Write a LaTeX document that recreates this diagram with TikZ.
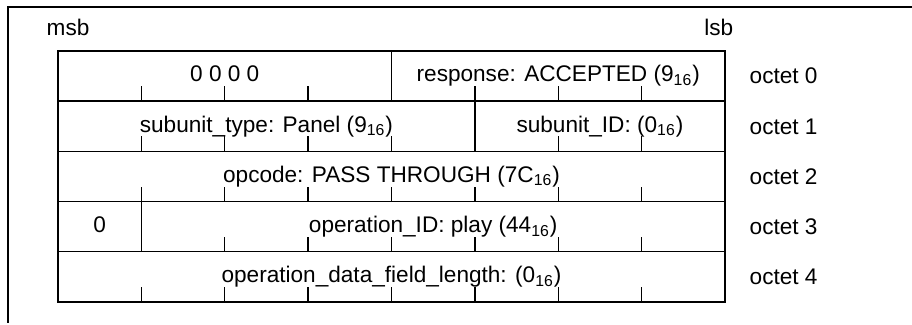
\documentclass[tikz,border=0pt]{standalone}
\usepackage{fontspec}
\setmainfont{Liberation Sans}
\usepackage{tikz}

\begin{document}
\begin{tikzpicture}[
        x=0.5pt, y=-0.5pt,
        line width=0.7pt,
        font=\fontsize{11.3}{13}\selectfont,
        declare function={
            Left=58;
            Right=725;
            Top=51;
            Row=50.2;
            Tick=15;
            Bit=(Right-Left)/8;
            bitX(\b)=Left+\b*Bit;
            rowY(\r)=Top+\r*Row;
        },
        field/.style={anchor=base, inner sep=0pt},
        octet/.style={anchor=base west, inner sep=0pt}
    ]
        \useasboundingbox (0,0) rectangle (912,325);
        \draw (8,323) -- (8,7) -- (912,7);

        \node[anchor=base west, inner sep=0pt] (msb) at (46,36) {msb};
        \node[anchor=base east, inner sep=0pt] (lsb) at (734,36) {lsb};

        % rows with bit ticks
        \foreach \r in {0,...,4} {
            \draw ({Left}, {rowY(\r)}) rectangle ({Right}, {rowY(\r+1)});
            \foreach \b in {1,...,7}
                \draw ({bitX(\b)}, {rowY(\r+1)}) -- ++(0, {-Tick});
            \node[octet] (octet\r) at (749, {rowY(\r)+33}) {octet \r};
        }

        % field borders
        \foreach \r/\b in {0/4, 1/5, 3/1}
            \draw ({bitX(\b)}, {rowY(\r)}) -- ({bitX(\b)}, {rowY(\r+1)});

        \node[field] (reserved) at ({(bitX(0)+bitX(4))/2}, {rowY(0)+31}) {0 0 0 0};
        \node[field] (response) at ({(bitX(4)+bitX(8))/2}, {rowY(0)+31}) {response: ACCEPTED (9\textsubscript{16})};
        \node[field] (subtype) at ({(bitX(0)+bitX(5))/2}, {rowY(1)+31}) {subunit\_type: Panel (9\textsubscript{16})};
        \node[field] (subid) at ({(bitX(5)+bitX(8))/2}, {rowY(1)+31}) {subunit\_ID: (0\textsubscript{16})};
        \node[field] (opcode) at ({(bitX(0)+bitX(8))/2}, {rowY(2)+31}) {opcode: PASS THROUGH (7C\textsubscript{16})};
        \node[field] (stateflag) at ({(bitX(0)+bitX(1))/2}, {rowY(3)+31}) {0};
        \node[field] (opid) at ({(bitX(1)+bitX(8))/2}, {rowY(3)+31}) {operation\_ID: play (44\textsubscript{16})};
        \node[field] (datalen) at ({(bitX(0)+bitX(8))/2}, {rowY(4)+31}) {operation\_data\_field\_length: (0\textsubscript{16})};
    \end{tikzpicture}
\end{document}
